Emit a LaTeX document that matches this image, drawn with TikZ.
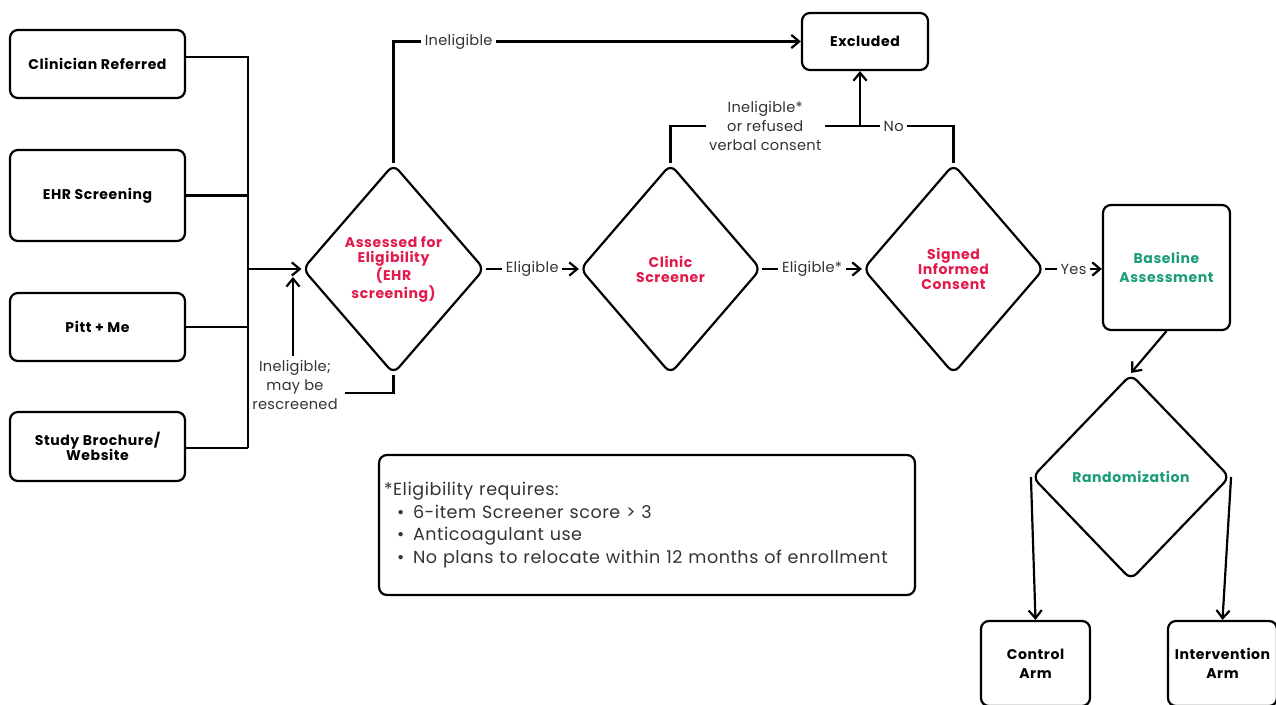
\documentclass[tikz,border=0pt]{standalone}
\usepackage{fontspec}
\setmainfont{Poppins}
\usetikzlibrary{shapes.geometric,arrows.meta}
\definecolor{flowred}{HTML}{E11B4C}
\definecolor{flowgreen}{HTML}{1A9C77}
\definecolor{flowgrey}{HTML}{333333}
\newcommand{\notebullet}{\hspace*{7.5pt}\makebox[9pt][l]{\textbullet}}
\newcommand{\boldsp}{\bfseries\addfontfeatures{LetterSpace=4}}

\begin{document}
\begin{tikzpicture}[x=0.02cm, y=-0.02cm, line width=1.25pt, >={Straight Barb[length=4.5pt,width=7.5pt]},
        lbl/.style={fill=white, inner sep=2pt, align=center, text=flowgrey, font=\fontsize{8.3}{10.8}\selectfont\addfontfeatures{LetterSpace=2}}]
        \clip (0,0) rectangle (1276,704);
        \begin{scope}[every node/.style={draw, rounded corners=4.5pt, align=center, inner sep=2pt, font=\fontsize{8}{8.6}\selectfont\boldsp}]
                \node[minimum width=3.5cm, minimum height=1.36cm] (clin) at (97.5,64) {Clinician Referred};
                \node[minimum width=3.5cm, minimum height=1.82cm] (ehr) at (97.5,195.5) {EHR Screening};
                \node[minimum width=3.5cm, minimum height=1.36cm] (pitt) at (97.5,327) {Pitt + Me};
                \node[minimum width=3.5cm, minimum height=1.38cm] (study) at (97.5,446.5) {Study Brochure/\\Website};
                \node[minimum width=2.52cm, minimum height=1.14cm] (excl) at (865,41.5) {Excluded};
                \node[minimum width=2.54cm, minimum height=2.5cm, text=flowgreen, font=\fontsize{8}{10.8}\selectfont\boldsp] (base) at (1166.5,267.5) {Baseline\\Assessment};
                \node[minimum width=2.18cm, minimum height=1.7cm, font=\fontsize{8}{10.8}\selectfont\boldsp] (ctrl) at (1035.5,663.5) {Control\\Arm};
                \node[minimum width=2.18cm, minimum height=1.7cm, font=\fontsize{8}{10.8}\selectfont\boldsp] (interv) at (1222.5,663.5) {Intervention\\Arm};
        \end{scope}
        \begin{scope}[every node/.style={draw, diamond, rounded corners=4.5pt, align=center, inner sep=0pt, text=flowred, font=\fontsize{8}{8.6}\selectfont\boldsp}]
                \node[minimum width=3.64cm, minimum height=4.2cm] (elig) at (393.5,269) {Assessed for\\Eligibility\\(EHR\\screening)};
                \node[minimum width=3.62cm, minimum height=4.2cm] (clinic) at (670.5,269) {Clinic\\Screener};
                \node[minimum width=3.62cm, minimum height=4.2cm] (consent) at (953.5,269) {Signed\\Informed\\Consent};
                \node[minimum width=3.96cm, minimum height=4.12cm, text=flowgreen] (rand) at (1131,477) {Randomization};
        \end{scope}
        \node[draw, rounded corners=4.5pt, minimum width=10.72cm, minimum height=2.8cm, text width=10.52cm, inner xsep=0.1cm, align=left, text=flowgrey, font=\fontsize{10}{12.9}\selectfont\addfontfeatures{LetterSpace=3}] (note) at (647,525)
                {*Eligibility requires:\\
                \notebullet 6-item Screener score > 3\\
                \notebullet Anticoagulant use\\
                \notebullet No plans to relocate within 12 months of enrollment};
        \node[lbl, fill=none] (rescr) at (295,385) {Ineligible;\\may be\\rescreened};
        \coordinate (bustop) at (248,57);
        \coordinate (busbot) at (248,448);
        \coordinate (fbend) at (345,393);
        \coordinate (fbup) at (293,277);
        \coordinate (jn) at (860,126);
        \draw (clin.east |- bustop) -- (bustop) -- (busbot);
        \draw (ehr.east) -- (ehr.east -| bustop);
        \draw (pitt.east) -- (pitt.east -| bustop);
        \draw (study.east |- busbot) -- (busbot);
        \draw[->] (elig.west -| bustop) -- (elig.west);
        \draw (elig.south) |- (fbend);
        \draw[->] (rescr.north -| fbup) -- (fbup);
        \draw[->] (elig.north) |- node[lbl, pos=0.58] {Ineligible} (excl.west);
        \draw (clinic.north) |- node[lbl, pos=0.75] {Ineligible*\\or refused\\verbal consent} (jn);
        \draw (consent.north) |- node[lbl, pos=0.82] {No} (jn);
        \draw[->] (jn) -- (jn |- excl.south);
        \draw[->] (elig.east) -- node[lbl] {Eligible} (clinic.west);
        \draw[->] (clinic.east) -- node[lbl] {Eligible*} (consent.west);
        \draw[->] (consent.east) -- node[lbl] {Yes} (consent.east -| base.west);
        \draw[->] (base.south) -- (rand.north);
        \draw[->] (rand.west) -- (ctrl.north);
        \draw[->] (rand.east) -- (interv.north);
\end{tikzpicture}
\end{document}
